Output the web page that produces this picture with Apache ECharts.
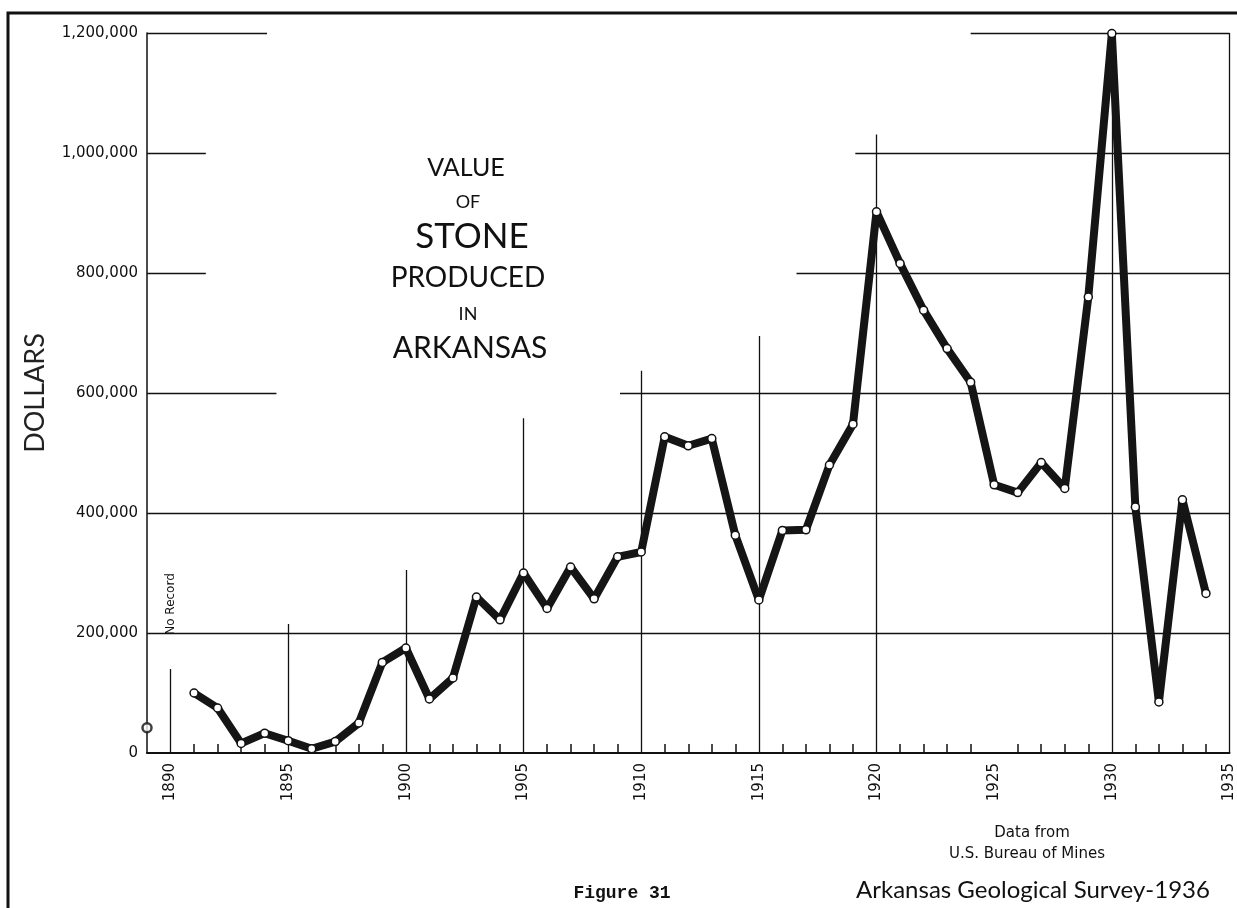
<!DOCTYPE html>
<html><head><meta charset="utf-8">
<script src="https://cdn.jsdelivr.net/npm/echarts@6/dist/echarts.min.js"></script>
<style>html,body{margin:0;padding:0;background:#fff}#c{width:1237px;height:908px}</style>
</head><body><div id="c"></div>
<script>
// ---- data ----
const years = [1891,1892,1893,1894,1895,1896,1897,1898,1899,1900,
               1901,1902,1903,1904,1905,1906,1907,1908,1909,1910,
               1911,1912,1913,1914,1915,1916,1917,1918,1919,1920,
               1921,1922,1923,1924,1925,1926,1927,1928,1929,1930,
               1931,1932,1933,1934];
const values = [100000,75000,16000,33000,20500,7000,19000,50000,151000,175000,
                90000,125000,260000,222000,300000,241000,310000,257000,327000,335000,
                527000,512000,524000,363000,255000,371000,372000,480000,548000,902000,
                816000,738000,674000,618000,447000,434000,484000,441000,760000,1199000,
                410000,85000,422000,266000];
const earlyYears = [1889];
const earlyValues = [42000];
const xLabelYears = [1890,1895,1900,1905,1910,1915,1920,1925,1930,1935];
const xTickYears = [1891,1892,1893,1894,1896,1897,1898,1899,1901,1902,1903,1904,
                    1906,1907,1908,1909,1911,1912,1913,1914,1916,1917,1918,1919,
                    1921,1922,1923,1924,1926,1927,1928,1929,1931,1932,1933,1934];
// partial rulings as drawn on the original sheet: [value, fromYear, toYear]
const hRules = [[1200000,1889,1894.1],[1200000,1924.0,1935],
                [1000000,1889,1891.5],[1000000,1919.1,1935],
                [800000,1889,1891.5],[800000,1916.6,1935],
                [600000,1889,1894.5],[600000,1909.1,1935],
                [400000,1889,1935],[200000,1889,1935]];
// vertical rulings: [year, fromValue, toValue]
const vRules = [[1890,0,140000],[1895,0,215000],[1900,0,305000],[1905,0,558000],
                [1910,0,637000],[1915,0,695000],[1920,0,1031000],[1925,0,1210000],
                [1930,0,1200000],[1935,0,1200000]];

const ruleData = [];
hRules.forEach(r => ruleData.push([{coord:[r[1], r[0]]},{coord:[r[2], r[0]]}]));
vRules.forEach(r => ruleData.push([{coord:[r[0], r[1]]},{coord:[r[0], r[2]]}]));

const chart = echarts.init(document.getElementById('c'), null, {renderer:'canvas'});
const txt = (text, x, y, size, family, extra) => Object.assign({
  type:'text', x:x, y:y, silent:true,
  style:{text:text, fill:'#111', align:'center', verticalAlign:'middle',
         fontSize:size, fontFamily:family}
}, extra || {});

chart.setOption({
  animation:false,
  backgroundColor:'#fff',
  grid:{left:147, right:6, top:33, bottom:155, containLabel:false},
  xAxis:{
    type:'value', min:1889, max:1935,
    axisLine:{show:true, lineStyle:{color:'#111', width:2}},
    axisTick:{show:true, inside:true, length:9, customValues:xTickYears, lineStyle:{color:'#111', width:1.5}},
    axisLabel:{show:true, rotate:90, margin:10, customValues:xLabelYears,
               formatter:v => String(v), color:'#111', fontSize:15, fontFamily:'DejaVu Sans'},
    splitLine:{show:false}
  },
  yAxis:{
    type:'value', min:0, max:1200000, interval:200000,
    name:'DOLLARS', nameLocation:'middle', nameGap:98, nameRotate:90,
    nameTextStyle:{color:'#222', fontSize:27, fontFamily:'Lato'},
    axisLine:{show:true, lineStyle:{color:'#111', width:1.5}},
    axisTick:{show:false},
    axisLabel:{color:'#111', fontSize:15, fontFamily:'DejaVu Sans', margin:9},
    splitLine:{show:false}
  },
  series:[
    {
      type:'line', data:[], silent:true, clip:false,
      markLine:{silent:true, symbol:['none','none'], label:{show:false},
                lineStyle:{color:'#111', width:1.3, type:'solid'},
                emphasis:{disabled:true}, data:ruleData}
    },
    {
      type:'line', data:years.map((y,i)=>[y, values[i]]),
      lineStyle:{color:'#151515', width:8, join:'round'},
      symbol:'circle', symbolSize:8, showSymbol:true,
      itemStyle:{color:'#fff', borderColor:'#111', borderWidth:1.5},
      z:5
    },
    {
      type:'scatter', data:earlyYears.map((y,i)=>[y, earlyValues[i]]),
      symbol:'circle', symbolSize:9,
      itemStyle:{color:'#fff', borderColor:'#111', borderWidth:2.5},
      z:5
    }
  ],
  graphic:[
    {type:'rect', silent:true, shape:{x:8, y:13, width:1245, height:910},
     style:{fill:'none', stroke:'#111', lineWidth:3}},
    txt('VALUE', 466, 168, 25, 'Lato'),
    txt('OF', 468, 202, 18, 'Lato'),
    txt('STONE', 472, 237, 35, 'Lato'),
    txt('PRODUCED', 468, 278, 28, 'Lato'),
    txt('IN', 468, 314, 18, 'Lato'),
    txt('ARKANSAS', 470, 348, 30, 'Lato'),
    txt('No Record', 171, 604, 12, 'DejaVu Sans', {rotation:Math.PI/2}),
    txt('Figure 31', 622, 893, 18, 'Liberation Mono', {style:{text:'Figure 31', fill:'#111', align:'center', verticalAlign:'middle', fontSize:18, fontFamily:'Liberation Mono', fontWeight:'bold'}}),
    txt('Data from', 1032, 833, 15, 'DejaVu Sans'),
    txt('U.S. Bureau of Mines', 1027, 854, 15, 'DejaVu Sans'),
    txt('Arkansas Geological Survey-1936', 1033, 890, 24, 'Lato')
  ]
});
</script></body></html>
